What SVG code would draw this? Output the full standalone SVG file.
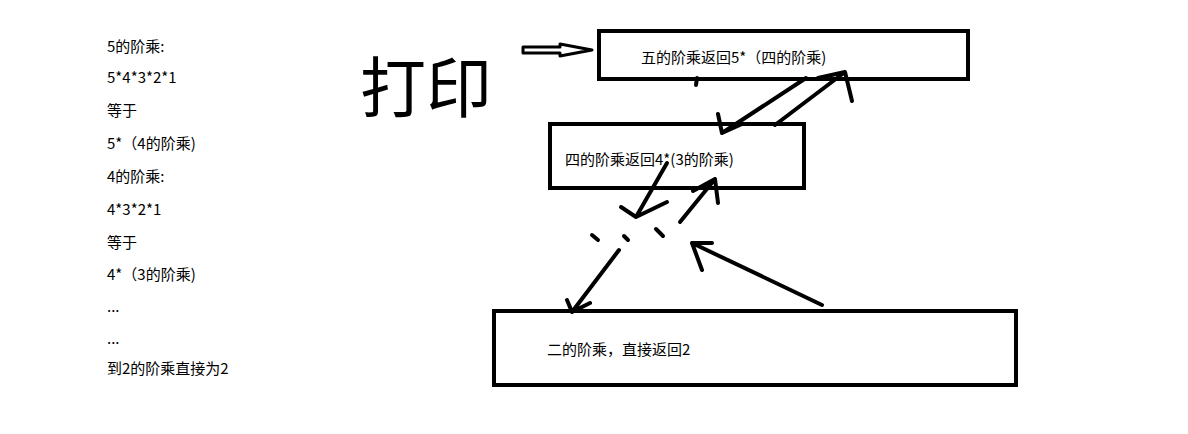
<svg xmlns="http://www.w3.org/2000/svg" width="1188" height="434" viewBox="0 0 1188 434">
<style>
.t{font-family:"Microsoft YaHei","Noto Sans CJK SC",sans-serif;font-size:15px;fill:#000}
.b{fill:none;stroke:#000;stroke-width:4}
.l{fill:none;stroke:#000;stroke-width:4;stroke-linecap:round;stroke-linejoin:round}
</style>
<rect width="1188" height="434" fill="#fff"/>
<g id="notes" class="t">
<text x="107" y="52">5的阶乘:</text>
<text x="107" y="83">5*4*3*2*1</text>
<text x="107" y="116">等于</text>
<text x="107" y="149">5*（4的阶乘)</text>
<text x="107" y="182">4的阶乘:</text>
<text x="107" y="215">4*3*2*1</text>
<text x="107" y="248">等于</text>
<text x="107" y="280">4*（3的阶乘)</text>
<text x="107" y="312">...</text>
<text x="107" y="344">...</text>
<text x="107" y="374">到2的阶乘直接为2</text>
</g>
<g id="print"><text x="360" y="112" style="font-family:'Noto Sans CJK SC',sans-serif;font-size:66px">打印</text></g>
<g id="n1"><rect class="b" x="599" y="31" width="369" height="48"/><text class="t" x="641" y="63">五的阶乘返回5*（四的阶乘)</text></g>
<g id="n2"><rect class="b" x="550" y="124" width="254" height="64"/><text class="t" x="565" y="165">四的阶乘返回4*(3的阶乘)</text></g>
<g id="n3"><rect class="b" x="494" y="311" width="522" height="74"/><text class="t" x="547" y="355">二的阶乘，直接返回2</text></g>
<g id="connectors" class="l">
<path d="M523 47H560V44L592 50L560 56V53H523Z" stroke-width="3"/>
<path d="M697 78L696 85"/>
<path d="M806 78L722 133M718 114L722 133L742 124"/>
<path d="M775 125L845 72M818 78L845 72L852 101"/>
<path d="M667 163L636 217M621 207L636 217L667 202"/>
<path d="M680 222L715 179M693 191L715 179L718 203"/>
<path d="M592 235L598 240M624 236L628 240M656 229L663 236"/>
<path d="M619 250L572 312M567 300L572 312L590 303"/>
<path d="M822 305L692 243M712 243L692 243L702 270"/>
</g>
</svg>
